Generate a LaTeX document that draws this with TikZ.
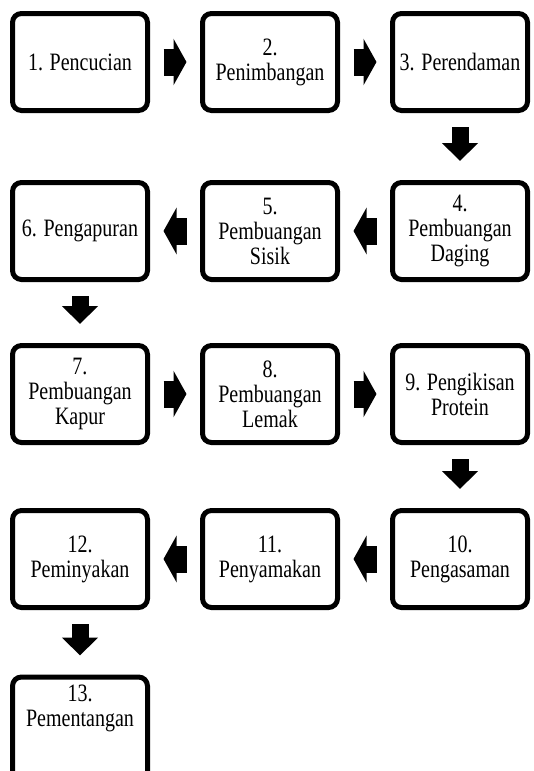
\documentclass[tikz,border=0pt]{standalone}
\usepackage{fontspec}
\setmainfont{Liberation Serif}[FakeStretch=0.8]
\usetikzlibrary{arrows.meta}

\begin{document}
\begin{tikzpicture}[x=1pt,y=-1pt,
    stepbox/.style={draw,line width=5pt,rounded corners=9pt,fill=white,
      minimum width=135pt,minimum height=97pt,inner sep=2pt,align=center,
      font=\fontsize{25}{25}\selectfont},
    harrow/.style={line width=27pt,-{Triangle[length=13pt,width=46pt]},
      shorten <=13.5pt,shorten >=13.5pt},
    varrow/.style={line width=17pt,-{Triangle[length=18pt,width=35pt]},
      shorten <=14pt,shorten >=19pt}]
  \useasboundingbox (0,0) rectangle (533,771);
  % Row 1 (left to right)
  \node[stepbox] (p1) at (80,62) {1. Pencucian};
  \node[stepbox] (p2) at (270,62) {2.\\Penimbangan};
  \node[stepbox] (p3) at (460,62) {3. Perendaman};
  % Row 2 (right to left)
  \node[stepbox] (p4) at (460,231) {4.\\Pembuangan\\Daging};
  \node[stepbox] (p5) at (270,231) {5.\\Pembuangan\\Sisik};
  \node[stepbox] (p6) at (80,231) {6. Pengapuran};
  % Row 3
  \node[stepbox] (p7) at (80,394) {7.\\Pembuangan\\Kapur};
  \node[stepbox] (p8) at (270,394) {8.\\Pembuangan\\Lemak};
  \node[stepbox] (p9) at (460,394) {9. Pengikisan\\Protein};
  % Row 4
  \node[stepbox] (p10) at (460,559) {10.\\Pengasaman};
  \node[stepbox] (p11) at (270,559) {11.\\Penyamakan};
  \node[stepbox] (p12) at (80,559) {12.\\Peminyakan};
  % Last box runs off the bottom edge
  \node[stepbox,anchor=north,minimum height=140pt] (p13) at (80,674.5)
    {13.\\Pementangan\\[57pt]\mbox{}};
  % Block arrows
  \draw[harrow] (p1) -- (p2);
  \draw[harrow] (p2) -- (p3);
  \draw[varrow] (p3) -- (p4);
  \draw[harrow] (p4) -- (p5);
  \draw[harrow] (p5) -- (p6);
  \draw[varrow] (p6) -- (p7);
  \draw[harrow] (p7) -- (p8);
  \draw[harrow] (p8) -- (p9);
  \draw[varrow] (p9) -- (p10);
  \draw[harrow] (p10) -- (p11);
  \draw[harrow] (p11) -- (p12);
  \draw[varrow] (p12) -- (p13);
\end{tikzpicture}
\end{document}
